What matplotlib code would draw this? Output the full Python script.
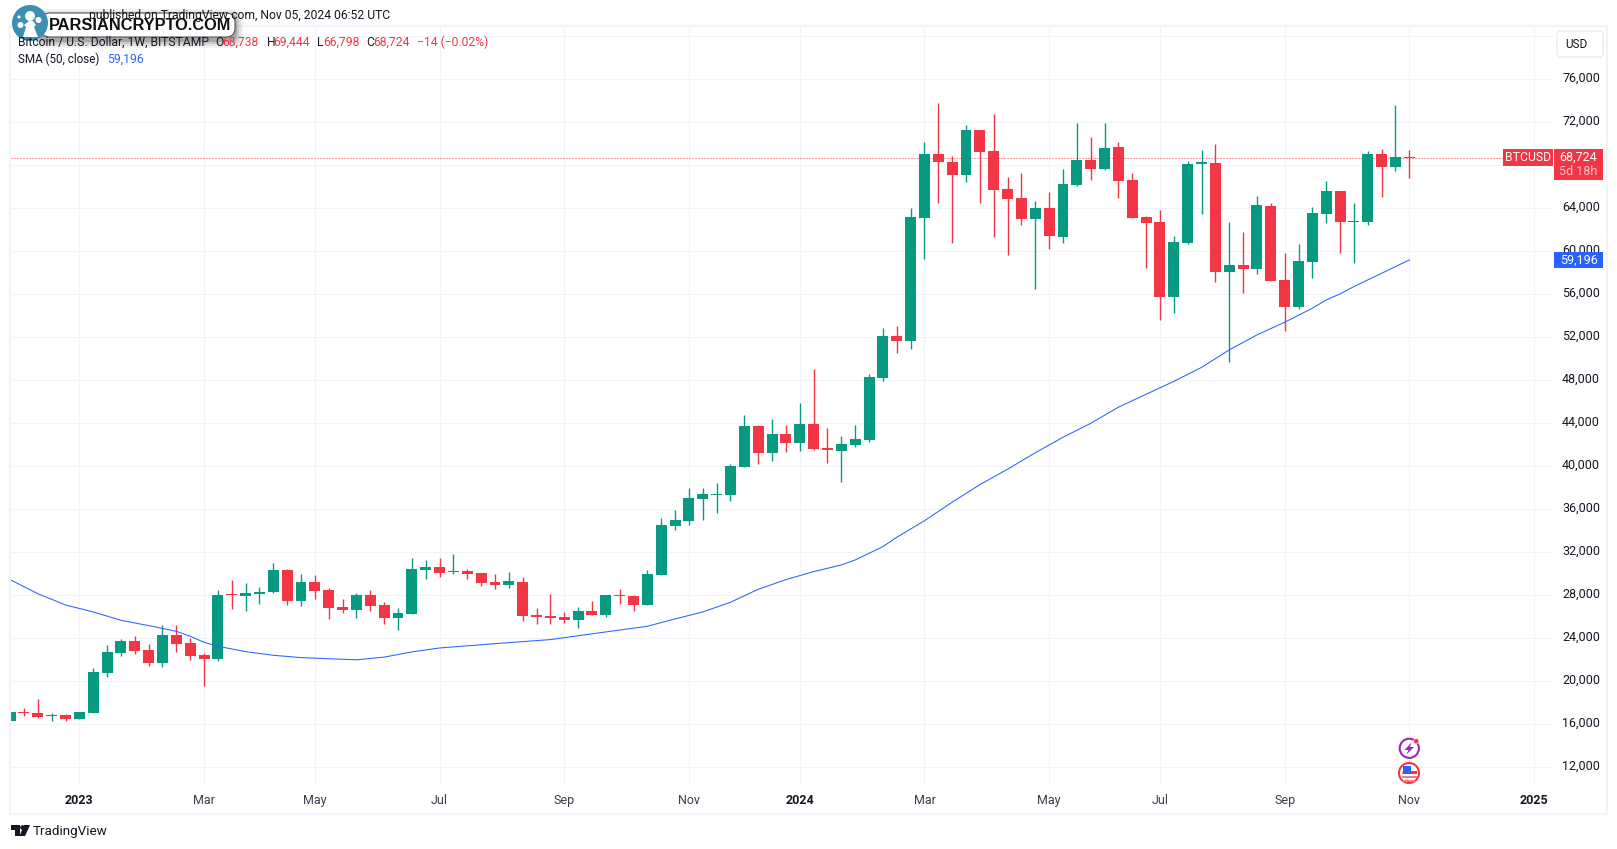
import matplotlib
matplotlib.use("Agg")
import matplotlib.pyplot as plt
from matplotlib.patches import Rectangle, Circle, FancyBboxPatch, Polygon
from matplotlib.transforms import ScaledTranslation

# weekly candles
opens = [16311,17148,17055,16807,16869,16497,17055,20809,22669,23785,22948,21739,24343,23599,22483,22111,28156,27970,28156,28342,
         30388,27505,29272,28528,26947,26668,28063,27133,25924,26296,30358,30637,30172,30265,30079,29242,28963,29242,26171,26078,
         25985,25706,26543,26173,28033,27940,27103,29893,34450,34915,36961,37333,37336,39940,43753,41242,43009,42172,43939,41707,
         41428,41986,42451,48218,52124,51659,63103,69055,68311,67102,71287,69334,65800,64963,63010,64033,61336,66172,68497,67660,
         69706,66637,63196,62731,55756,60778,68125,68218,58081,58732,58360,64219,57337,54826,59011,63475,65614,62731,62731,69055,
         67846,68738]
highs = [17148,17489,18357,17024,16962,17148,21274,23413,23971,24250,23506,25273,25273,24064,22669,28528,29458,29179,28807,31039,
         30481,30016,29923,28714,27691,28249,28528,27412,26854,31504,31288,31474,31846,30451,30079,29986,30172,29707,26822,28124,
         26450,26915,27473,28033,28591,28033,30358,35194,35938,37984,37984,38449,40219,44776,43846,44404,43846,45892,49054,43567,
         42823,43846,48589,52868,53054,64033,70171,73798,68869,71752,71287,72775,66916,67288,64684,65521,67660,71938,70636,71938,
         70171,67288,63289,63847,61429,68404,69427,69985,62731,61801,65149,64498,59848,60685,64126,66544,65614,64498,69334,69520,
         73612,69444]
lows = [16311,16776,16590,16311,16311,16497,17055,20437,22390,22576,21460,21367,22762,22018,19600,21925,26761,26575,27226,28249,
        27133,27040,27691,25831,26389,25924,26575,25366,24808,26296,29521,29707,29986,29521,28870,28591,28684,25613,25334,25334,
        25427,24962,26171,25987,27196,26545,27103,29893,34078,34543,35008,35659,36778,39940,40219,40498,41335,41428,41521,40312,
        38545,41800,42265,47900,50543,50915,59290,64498,60778,66451,64498,61336,59662,62452,56500,60220,60778,66079,66637,67567,
        64963,63103,58453,53617,54268,60685,63475,57151,49700,56128,57895,57244,52594,54640,57523,62638,59848,58918,62452,65056,
        67474,66798]
closes = [17148,17055,16683,16900,16497,17148,20902,22762,23785,22855,21739,24343,23506,22390,22111,28063,28063,28249,28342,30388,
          27505,29272,28435,26854,26668,28063,27040,25924,26389,30481,30637,30079,30265,29986,29149,28963,29335,26080,25985,25892,
          25706,26543,26171,28033,27970,27103,29986,34543,35008,37054,37426,37426,40033,43753,41242,43009,42172,43939,41614,41521,
          42079,42544,48310,52124,51659,63196,69055,68311,67102,71287,69241,65707,64870,63010,64033,61429,66265,68497,67660,69613,
          66544,63103,62638,55756,60871,68125,68311,58081,58732,58360,64312,57244,54826,59104,63568,65614,62731,62824,69055,67846,
          68738,68724]

# SMA 50, read at some of the weeks
sma_weeks = [0,2,4,6,8,10,12,13,14,15,17,19,21,23,25,27,29,31,35,39,43,46,48,50,52,54,56,58,60,61,62,63,64,66,68,70,72,74,76,78,80,82,84,86,88,90,92,94,95,96,97,98,100,101]
sma_vals = [29458,28150,27100,26451,25676,25180,24653,24188,23630,23258,22762,22421,22204,22100,22000,22250,22731,23100,23500,23879,24592,25119,25801,26452,27351,28560,29459,30203,30823,31288,31908,32528,33400,34932,36660,38290,39730,41260,42700,44000,45500,46700,47900,49200,50827,52222,53400,54702,55477,56035,56717,57337,58577,59196]

price_ticks = [12000,16000,20000,24000,28000,32000,36000,40000,44000,48000,52000,56000,60000,64000,68000,72000,76000,80000]
price_labels = ["12,000","16,000","20,000","24,000","28,000","32,000","36,000","40,000","44,000","48,000","52,000","56,000","60,000","64,000","","72,000","76,000",""]
date_ticks = [5,14,22,31,40,49,57,66,75,83,92,101,110]
date_labels = ["2023","Mar","May","Jul","Sep","Nov","2024","Mar","May","Jul","Sep","Nov","2025"]

last_price = 68724
last_sma = 59196

GREEN = "#089981"
RED = "#f23645"
BLUE = "#2962ff"
GRID = "#f0f3fa"
TEXT = "#131722"
W, H = 1617, 849

plt.rcParams["font.family"] = ["Roboto", "DejaVu Sans"]

fig = plt.figure(figsize=(W/100, H/100), dpi=100, facecolor="white")

# plot area in pixels: 10.5..1553 wide, 26..786 high
ax = fig.add_axes([10.5/W, 1-786/H, (1553-10.5)/W, (786-26)/H])
ax.set_xlim(0.03, 111.37)
ax.set_ylim(10260, 80958)
for s in ax.spines.values():
    s.set_visible(False)

ax.set_yticks(price_ticks)
ax.set_yticklabels(price_labels)
ax.set_xticks(date_ticks)
ax.set_xticklabels(date_labels)
ax.yaxis.tick_right()
ax.tick_params(axis="y", length=0, pad=6.5, labelsize=9, labelcolor=TEXT)
ax.tick_params(axis="x", length=0, pad=6, labelsize=9, labelcolor="#3a3e4a")
for lab in ax.get_xticklabels():
    if lab.get_text().startswith("20"):
        lab.set_fontweight("bold")
        lab.set_color(TEXT)
# the price labels sit a little above their grid lines
up = ScaledTranslation(0, 2.5/100, fig.dpi_scale_trans)
for lab in ax.get_yticklabels():
    lab.set_transform(lab.get_transform() + up)
ax.grid(True, color=GRID, lw=0.8, zorder=0)
ax.set_axisbelow(True)

ax.axhline(last_price, color=RED, lw=0.72, ls=(0, (1, 2)), zorder=1)

weeks = list(range(len(opens)))
colors = [GREEN if c >= o else RED for o, c in zip(opens, closes)]
bottoms = [min(o, c) for o, c in zip(opens, closes)]
heights = [max(abs(c-o), 90) for o, c in zip(opens, closes)]
ax.vlines(weeks, lows, highs, colors=colors, lw=1.0, zorder=2)
ax.bar(weeks, heights, bottom=bottoms, width=0.79, color=colors, lw=0, zorder=3)
ax.plot(sma_weeks, sma_vals, color=BLUE, lw=0.75, zorder=4)

# overlay in pixel coordinates for the chart furniture
ov = fig.add_axes([0, 0, 1, 1], zorder=10)
ov.set_xlim(0, W)
ov.set_ylim(H, 0)
ov.axis("off")
ov.patch.set_alpha(0)

def price_y(p):
    return H - ax.transData.transform((0, p))[1]

# outer frame
ov.add_patch(Rectangle((10, 26), 1597, 787.5, fill=False, ec=GRID, lw=1.6))

# USD button
ov.add_patch(FancyBboxPatch((1559, 33), 42, 22, boxstyle="round,pad=2,rounding_size=4", fc="white", ec="#eceef4", lw=1.2))
ov.text(1576, 44.5, "USD", fontsize=8.5, color=TEXT, ha="center", va="center")

# price tags
yp = price_y(last_price)
ov.add_patch(Rectangle((1503, yp-8.5), 50, 17, fc=RED, ec="none"))
ov.text(1528, yp-0.5, "BTCUSD", color="white", fontsize=8.8, ha="center", va="center")
ov.add_patch(Rectangle((1554, yp-8.5), 49, 31, fc=RED, ec="none"))
ov.text(1578.5, yp-0.5, "68,724", color="white", fontsize=9, ha="center", va="center")
ov.text(1578.5, yp+13.5, "5d 18h", color="#fbc1c7", fontsize=9, ha="center", va="center")
ys = price_y(last_sma)
ov.add_patch(Rectangle((1554, ys-8.3), 49, 16.6, fc=BLUE, ec="none"))
ov.text(1578.5, ys, "59,196", color="white", fontsize=9, ha="center", va="center")

# header and legend
ov.text(390, 15, "published on TradingView.com, Nov 05, 2024 06:52 UTC", fontsize=8.7, color=TEXT, ha="right", va="center")
ov.text(18, 42.7, "Bitcoin / U.S. Dollar, 1W, BITSTAMP", fontsize=8.7, color=TEXT, va="center")
for x, s, c in [(215, "O", TEXT), (222, "68,738", RED), (266.7, "H", TEXT), (273, "69,444", RED),
                (316.7, "L", TEXT), (323, "66,798", RED), (366, "C", TEXT), (373, "68,724", RED),
                (416.7, "\u221214 (\u22120.02%)", RED)]:
    ov.text(x, 42.7, s, fontsize=8.7, color=c, va="center")
ov.text(18, 59.7, "SMA (50, close)", fontsize=8.4, color=TEXT, va="center")
ov.text(107.3, 59.7, "59,196", fontsize=8.7, color=BLUE, va="center")

# watermark pill with soft shadow
for grow, a in [(8, 0.05), (6, 0.07), (4, 0.1), (2, 0.16)]:
    ov.add_patch(FancyBboxPatch((44-grow, 17-grow+3), 188+2*grow, 17+2*grow, boxstyle="round,pad=3,rounding_size=9",
                                fc="black", ec="none", alpha=a))
ov.add_patch(FancyBboxPatch((44, 16), 188, 18, boxstyle="round,pad=3,rounding_size=9", fc="white", ec="#555555", lw=0.8))
ov.text(140.5, 25.5, "PARSIANCRYPTO.COM", fontsize=11.8, fontweight="bold", color="#111111", ha="center", va="center",
        family=["Liberation Sans", "DejaVu Sans"])
ov.add_patch(Circle((30, 23), 18, fc="#3b8fb5", ec="none"))
for cx, cy, r in [(30, 16, 5), (20.5, 25, 3), (38.5, 20, 3), (19, 17, 1.6)]:
    ov.add_patch(Circle((cx, cy), r, fc="white", ec="none"))
ov.add_patch(Polygon([(23, 37), (26, 27), (24, 25), (29, 21), (33, 21), (36, 25), (34, 27), (38, 37)], fc="white", ec="none"))

# event icons on the time axis
ov.add_patch(Circle((1409.3, 748.3), 9.6, fc="white", ec="#9c27b0", lw=1.5))
ov.add_patch(Polygon([(1411.5, 742.5), (1404.5, 750), (1408.5, 750), (1406.5, 754.5), (1414, 747), (1410, 747)], fc="#9c27b0", ec="none"))
ov.add_patch(Circle((1416.3, 741.3), 2.6, fc=RED, ec="white", lw=0.4))
ov.add_patch(Circle((1409, 773), 10, fc="white", ec=RED, lw=1.5))
for yy in [773, 777, 781]:
    ov.add_patch(Rectangle((1403.0 if yy > 779 else 1401.5, yy-1), 12 if yy > 779 else 15.5, 2, fc="#f77c80", ec="none"))
ov.add_patch(Rectangle((1411, 770.5), 6, 3.5, fc=RED, ec="none"))
ov.add_patch(Rectangle((1402.5, 766), 8.5, 8, fc="#2962ff", ec="none"))

# TradingView logo
ov.add_patch(Polygon([(10.5, 825), (19.5, 825), (19.5, 836), (15, 836), (15, 830), (10.5, 830)], fc=TEXT, ec="none"))
ov.add_patch(Circle((22.5, 827.5), 2.3, fc=TEXT, ec="none"))
ov.add_patch(Polygon([(24, 825), (30, 825), (25, 836), (19.5, 836)], fc=TEXT, ec="none"))
ov.text(33, 832, "TradingView", fontsize=9.7, color=TEXT, va="center")

fig.savefig("out.png", dpi=100)
